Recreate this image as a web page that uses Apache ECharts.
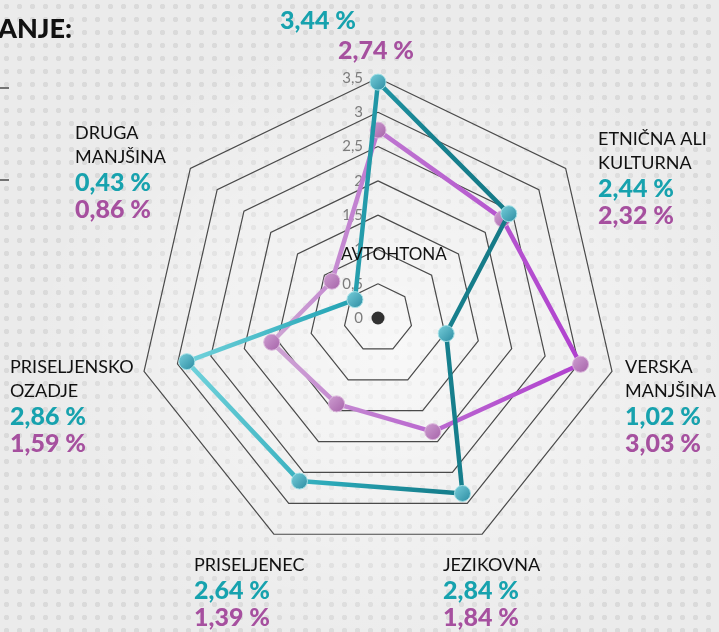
<!DOCTYPE html>
<html>
<head>
<meta charset="utf-8">
<script src="https://cdn.jsdelivr.net/npm/echarts@6/dist/echarts.min.js"></script>
<style>
    html, body {
        margin: 0;
        padding: 0;
    }

    body {
        width: 719px;
        height: 632px;
        overflow: hidden;
        background-color: #ebebeb;
        background-image: radial-gradient(ellipse at 55% 55%, rgba(255, 255, 255, 0.65), rgba(255, 255, 255, 0) 65%),
            radial-gradient(circle, #dadada 2.4px, rgba(0, 0, 0, 0) 3px);
        background-size: 100% 100%, 13px 13px;
    }

    #chart {
        width: 719px;
        height: 632px;
    }
</style>
</head>
<body>
<div id="chart"></div>
<script>
    // clockwise from the top
    const categories = ['AVTOHTONA', 'ETNIČNA ALI\nKULTURNA', 'VERSKA\nMANJŠINA', 'JEZIKOVNA',
        'PRISELJENEC', 'PRISELJENSKO\nOZADJE', 'DRUGA\nMANJŠINA'];
    const tealValues = [3.44, 2.44, 1.02, 2.84, 2.64, 2.86, 0.43];
    const purpleValues = [2.74, 2.32, 3.03, 1.84, 1.39, 1.59, 0.86];
    const axisMax = 3.5;
    const axisStep = 0.5;

    // label block top-left corners, same order as categories (top one is handled apart)
    const labelPos = [null, [598, 127], [625, 355], [443, 553], [194, 553], [10, 355], [75, 121]];

    const TEAL = '#17a2ae';
    const PURPLE = '#a6509f';
    const center = [378, 318];
    const radius = 240;
    const numFont = {fontFamily: 'Lato', fontSize: 25, fontWeight: 900};

    const pct = v => v.toFixed(2).replace('.', ',') + ' %';

    // echarts lays radar indicators out counter-clockwise
    const order = [0, 6, 5, 4, 3, 2, 1];
    const indicator = order.map(i => ({name: categories[i], min: 0, max: axisMax}));
    const tealData = order.map(i => tealValues[i]);
    const purpleData = order.map(i => purpleValues[i]);

    const rich = {
        n: {fontFamily: 'Lato', fontSize: 18, lineHeight: 24, fill: '#111', align: 'left'},
        t: Object.assign({lineHeight: 27, fill: TEAL, align: 'left'}, numFont),
        p: Object.assign({lineHeight: 27, fill: PURPLE, align: 'left'}, numFont)
    };

    const graphics = [];
    for (let i = 1; i < categories.length; i++) {
        const lines = categories[i].split('\n').map(s => '{n|' + s + '}');
        lines.push('{t|' + pct(tealValues[i]) + '}');
        lines.push('{p|' + pct(purpleValues[i]) + '}');
        graphics.push({
            type: 'text',
            x: labelPos[i][0],
            y: labelPos[i][1],
            z: 10,
            style: {text: lines.join('\n'), rich: rich, verticalAlign: 'top', align: 'left'}
        });
    }
    // top indicator: values above, name drawn near the centre like the original
    graphics.push({
        type: 'text', x: 280, y: 8, z: 10,
        style: Object.assign({text: pct(tealValues[0]), fill: TEAL}, numFont)
    });
    graphics.push({
        type: 'text', x: 338, y: 38, z: 10,
        style: Object.assign({text: pct(purpleValues[0]), fill: PURPLE}, numFont)
    });
    graphics.push({
        type: 'text', x: 341, y: 246, z: 10,
        style: {text: categories[0], fontFamily: 'Lato', fontSize: 17, fill: '#111'}
    });
    graphics.push({
        type: 'text', x: -2, y: 16, z: 10,
        style: {text: 'ANJE:', fontFamily: 'Lato', fontSize: 27, fontWeight: 900, fill: '#111'}
    });
    graphics.push({type: 'line', shape: {x1: 0, y1: 88, x2: 9, y2: 88}, style: {stroke: '#222', lineWidth: 1.2}});
    graphics.push({type: 'line', shape: {x1: 0, y1: 180, x2: 9, y2: 180}, style: {stroke: '#222', lineWidth: 1.2}});

    const e = echarts.init(document.getElementById('chart'));
    e.setOption({
        backgroundColor: 'transparent',
        animation: false,
        graphic: graphics,
        radar: {
            center: center,
            radius: radius,
            startAngle: 90,
            shape: 'polygon',
            splitNumber: Math.round(axisMax / axisStep),
            indicator: indicator,
            axisName: {show: false},
            axisLine: {show: false},
            splitArea: {show: false},
            splitLine: {lineStyle: {color: '#4a4a4a', width: 1.2}}
        },
        polar: {center: center, radius: radius},
        angleAxis: {type: 'value', min: 0, max: 360, startAngle: 90, show: false},
        radiusAxis: {
            type: 'value',
            min: 0,
            max: axisMax,
            interval: axisStep,
            axisLine: {show: false},
            axisTick: {show: false},
            splitLine: {show: false},
            axisLabel: {
                color: '#7c7c7c',
                fontFamily: 'Lato',
                fontSize: 15,
                margin: 15,
                formatter: v => String(v).replace('.', ',')
            }
        },
        series: [
            {
                type: 'radar',
                z: 3,
                symbol: 'circle',
                symbolSize: 16,
                data: [{
                    value: purpleData,
                    lineStyle: {
                        width: 4.5,
                        color: new echarts.graphic.LinearGradient(0, 0, 1, 0, [
                            {offset: 0, color: '#cea6d3'},
                            {offset: 0.4, color: '#bd72d0'},
                            {offset: 1, color: '#b03fcf'}
                        ])
                    },
                    itemStyle: {
                        color: new echarts.graphic.LinearGradient(0, 0, 1, 1, [
                            {offset: 0, color: '#cf9fd2'},
                            {offset: 1, color: '#a562a8'}
                        ]),
                        borderColor: '#d9b4da',
                        borderWidth: 1
                    }
                }]
            },
            {
                type: 'radar',
                z: 4,
                symbol: 'circle',
                symbolSize: 16,
                data: [{
                    value: tealData,
                    lineStyle: {
                        width: 4.5,
                        color: new echarts.graphic.LinearGradient(0, 0, 1, 0, [
                            {offset: 0, color: '#72d3dc'},
                            {offset: 0.45, color: '#2aa8b8'},
                            {offset: 0.75, color: '#17818f'},
                            {offset: 1, color: '#157986'}
                        ])
                    },
                    itemStyle: {
                        color: new echarts.graphic.LinearGradient(0, 0, 1, 1, [
                            {offset: 0, color: '#79d0dc'},
                            {offset: 1, color: '#2a8aa0'}
                        ]),
                        borderColor: '#a3e0e6',
                        borderWidth: 1
                    }
                }]
            },
            {
                type: 'scatter',
                coordinateSystem: 'polar',
                symbolSize: 13,
                itemStyle: {color: '#000'},
                data: [[0, 0]]
            }
        ]
    });
</script>
</body>
</html>
